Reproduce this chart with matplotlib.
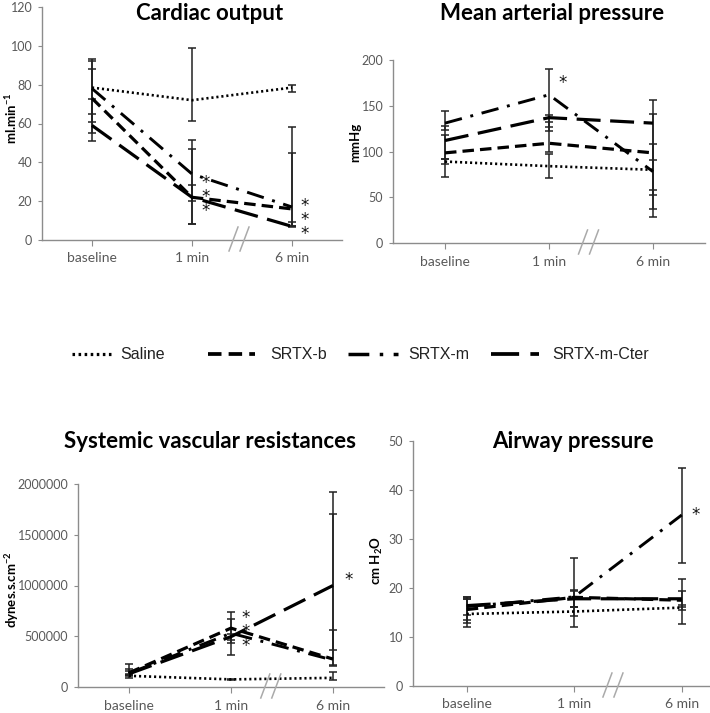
import matplotlib
matplotlib.use("Agg")
import matplotlib.pyplot as plt
from matplotlib.lines import Line2D
from matplotlib.ticker import FuncFormatter
from matplotlib.transforms import blended_transform_factory
import numpy as np

plt.rcParams['font.family'] = ['Lato', 'DejaVu Sans']
plt.rcParams['mathtext.fontset'] = 'custom'
plt.rcParams['mathtext.rm'] = 'Lato'
plt.rcParams['mathtext.bf'] = 'Lato:bold'
plt.rcParams['mathtext.it'] = 'Lato:italic'

categories = ["baseline", "1 min", "6 min"]
series_names = ["Saline", "SRTX-b", "SRTX-m", "SRTX-m-Cter"]

# Cardiac output (ml/min)
co_mean = [[78.5, 72, 78.5], [73, 22, 16], [78, 34, 17], [59, 22, 7]]
co_lo = [[13.5, 10.5, 2.5], [18, 2, 9], [17, 26, 10], [8, 14, 0.5]]
co_hi = [[14.5, 27, 1.5], [15, 6.5, 29], [14, 17.5, 41], [13.5, 25, 2.5]]

# Mean arterial pressure (mmHg)
map_mean = [[89, 84, 80], [98.5, 109, 98.5], [131, 162, 78], [112, 137, 131]]
map_lo = [[17, 13.5, 43], [12.5, 10, 40.8], [8, 35, 49.5], [20, 15, 78]]
map_hi = [[3, 13.5, 11], [19.5, 23, 9.2], [13, 28, 62.5], [16, 3, 25]]

# Systemic vascular resistances (dynes.s.cm-2)
svr_mean = [[110000, 75000, 90000], [140000, 580000, 275000],
            [135000, 530000, 265000], [130000, 496000, 1000000]]
svr_lo = [[20000, 5000, 18000], [25000, 143000, 55000],
          [20000, 219000, 62000], [20000, 30000, 640000]]
svr_hi = [[20000, 5000, 54000], [90000, 157000, 282000],
          [40000, 139000, 1437000], [30000, 30000, 925000]]

# Airway pressure (cm H2O)
aw_mean = [[14.7, 15.2, 16.0], [15.6, 18.1, 17.5], [16.2, 18.2, 34.9], [16.4, 17.8, 17.8]]
aw_lo = [[2.6, 1.0, 0.5], [2.1, 1.9, 4.9], [3.4, 6.2, 9.7], [1.9, 1.6, 1.6]]
aw_hi = [[3.5, 1.0, 0.5], [2.1, 1.4, 4.3], [1.5, 8.0, 9.5], [1.8, 1.5, 1.6]]

# significance marks: (category position, centre value, number of stacked stars)
co_stars = [(1.14, 22.0, 3), (2.13, 10.3, 3)]
map_stars = [(1.13, 175, 1)]
svr_stars = [(1.14, 545000, 3), (2.15, 1054000, 1)]
aw_stars = [(2.13, 34.9, 1)]

styles = [
    dict(linestyle=(0, (0.8, 1.1)), linewidth=1.9),
    dict(linestyle=(0, (3.6, 1.9)), linewidth=2.3),
    dict(linestyle=(0, (6, 3, 1, 3)), linewidth=2.1),
    dict(linestyle=(0, (7.5, 3)), linewidth=2.3),
]

W, H = 710, 713
fig = plt.figure(figsize=(W / 100, H / 100), dpi=100)

GRAY = '#8c8c8c'
TXT = '#595959'


def make_ax(left, right, top, bottom):
    return fig.add_axes([left / W, 1 - bottom / H, (right - left) / W, (bottom - top) / H])


def draw_panel(ax, means, los, his, stars, ylim, yticks, title, title_xy, ylabel, ylabel_xy,
               xmax, brk_x):
    x = np.arange(len(categories))
    for i in range(len(series_names)):
        ax.errorbar(x, means[i], yerr=[los[i], his[i]], fmt='none', ecolor='#222222',
                    elinewidth=1.1, capsize=3, capthick=1.1, zorder=2)
    for i in range(len(series_names)):
        ax.plot(x, means[i], color='black', zorder=3, **styles[i])
    for sx, sy, n in stars:
        ax.text(sx, sy, "\n".join(['*'] * n), fontsize=12, ha='center', va='center',
                color='#111111', family='DejaVu Sans', linespacing=0.72)
    ax.set_xlim(-0.5, xmax)
    ax.set_ylim(*ylim)
    ax.set_yticks(yticks)
    ax.yaxis.set_major_formatter(FuncFormatter(lambda v, p: f"{int(round(v))}"))
    ax.set_xticks(x)
    ax.set_xticklabels(categories)
    for s in ['top', 'right']:
        ax.spines[s].set_visible(False)
    for s in ['left', 'bottom']:
        ax.spines[s].set_color(GRAY)
        ax.spines[s].set_linewidth(1.0)
    ax.tick_params(axis='y', direction='out', length=3, width=0.8, color=GRAY,
                   labelsize=9, labelcolor=TXT, pad=4)
    ax.tick_params(axis='x', direction='out', length=4, width=0.8, color=GRAY,
                   labelsize=10, labelcolor=TXT, pad=5)
    ax.patch.set_alpha(0)
    # axis break marks
    bb = ax.get_position()
    ah = bb.height * H
    aw_ = bb.width * W
    xr = xmax + 0.5
    tr = blended_transform_factory(ax.transData, ax.transAxes)
    for off in (0.0, 11.0):
        x0 = brk_x + (off - 10) / aw_ * xr
        x1 = x0 + 9 / aw_ * xr
        ax.plot([x0, x1], [-11 / ah, 13 / ah], color='#aaaaaa', lw=1.1, transform=tr,
                clip_on=False, zorder=5)
    fig.text(title_xy[0] / W, 1 - title_xy[1] / H, title, fontsize=16, fontweight='bold',
             ha='center', va='center', color='black')
    fig.text(ylabel_xy[0] / W, 1 - ylabel_xy[1] / H, ylabel, fontsize=9.5, fontweight='bold',
             ha='center', va='center', rotation=90, color='black')


ax1 = make_ax(42, 342, 7, 240)
draw_panel(ax1, co_mean, co_lo, co_hi, co_stars, (0, 120), range(0, 121, 20),
           'Cardiac output', (210, 14), r'ml.min$^{\mathbf{-1}}$', (11, 118), 2.5, 1.47)

ax2 = make_ax(393, 705, 60, 243)
draw_panel(ax2, map_mean, map_lo, map_hi, map_stars, (0, 200), range(0, 201, 50),
           'Mean arterial pressure', (552, 13), 'mmHg', (355, 142), 2.5, 1.38)

ax3 = make_ax(78, 384, 484, 687)
draw_panel(ax3, svr_mean, svr_lo, svr_hi, svr_stars, (0, 2000000),
           range(0, 2000001, 500000), 'Systemic vascular resistances', (210, 442),
           r'dynes.s.cm$^{\mathbf{-2}}$', (12, 590), 2.5, 1.39)

ax4 = make_ax(413, 710, 441, 686)
draw_panel(ax4, aw_mean, aw_lo, aw_hi, aw_stars, (0, 50), range(0, 51, 10),
           'Airway pressure', (573, 442), r'cm H$_{\mathbf{2}}$O', (377, 560),
           (710 - 413) / 107.5 - 0.5, 1.36)

# legend row (layout in pixels)
leg_y = 354
leg_handle_px = [(72, 112), (208, 255), (348, 398), (491, 539)]
leg_text_px = [120, 270, 408, 552]
for i, name in enumerate(series_names):
    st = dict(styles[i])
    st['linewidth'] = st['linewidth'] + 0.4
    x0, x1 = leg_handle_px[i]
    fig.add_artist(Line2D([x0 / W, x1 / W], [1 - leg_y / H, 1 - leg_y / H],
                          transform=fig.transFigure, color='black', **st))
    fig.text(leg_text_px[i] / W, 1 - leg_y / H, name, fontsize=11.5,
             family=['Liberation Sans', 'DejaVu Sans'], ha='left', va='center',
             color='#222222')

fig.savefig('out.png', dpi=100)
